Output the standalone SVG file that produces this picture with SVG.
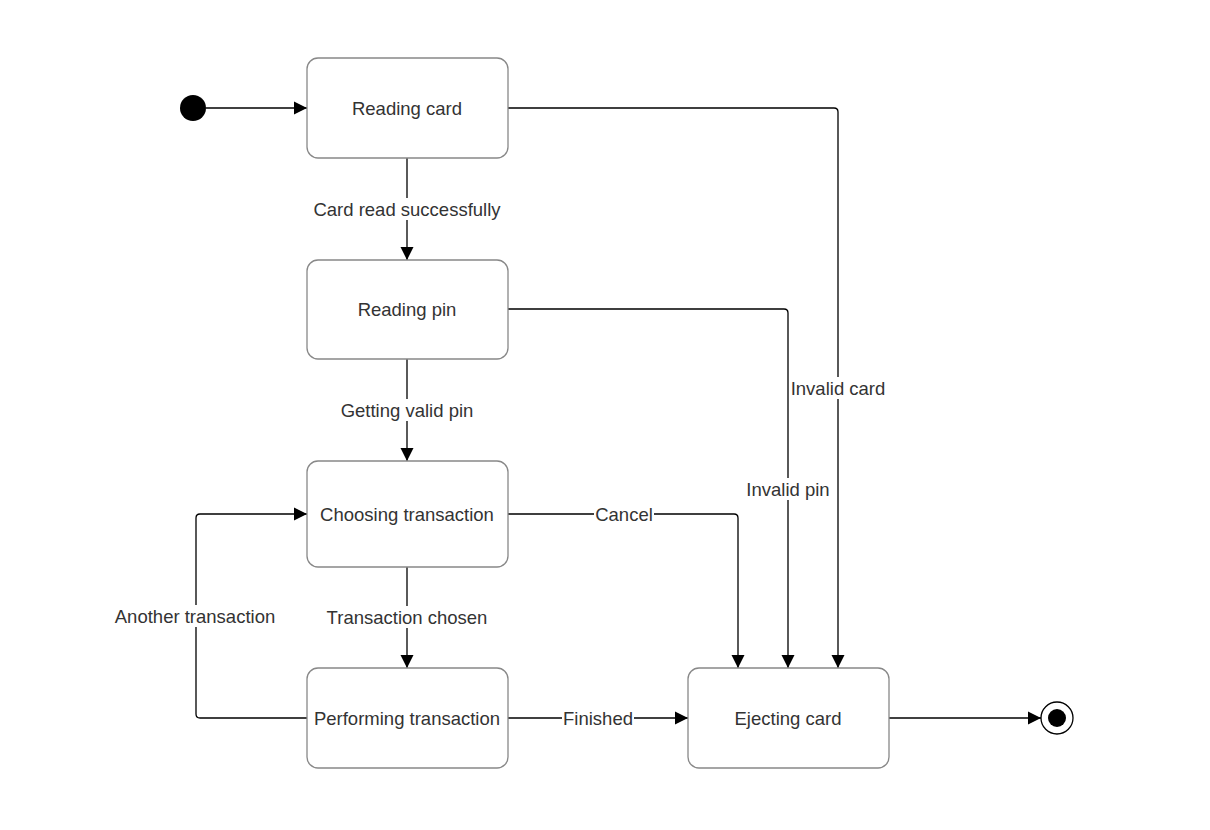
<svg xmlns="http://www.w3.org/2000/svg" width="1210" height="830" viewBox="0 0 1210 830">
<defs>
<marker id="arr" markerWidth="14" markerHeight="14" refX="13" refY="7" orient="auto" markerUnits="userSpaceOnUse">
<path d="M0,0.5 L13,7 L0,13.5 Z" fill="#000"/>
</marker>
<style>
.box{fill:#fff;stroke:#888;stroke-width:1.3}
.t{font-family:"Liberation Sans",Arial,sans-serif;font-size:18.5px;fill:#333;text-anchor:middle;dominant-baseline:central}
.e{fill:none;stroke:#000;stroke-width:1.3}
.lb{fill:#fff}
</style>
</defs>
<rect width="1210" height="830" fill="#fff"/>
<g id="connectors">
<path class="e" d="M206,108 H307" marker-end="url(#arr)"/>
<path class="e" d="M407,158 V260" marker-end="url(#arr)"/>
<path class="e" d="M407,359 V461" marker-end="url(#arr)"/>
<path class="e" d="M407,567 V668" marker-end="url(#arr)"/>
<path class="e" d="M307,718 H200 Q196,718 196,714 V518 Q196,514 200,514 H307" marker-end="url(#arr)"/>
<path class="e" d="M508,718 H688" marker-end="url(#arr)"/>
<path class="e" d="M508,514 H734 Q738,514 738,518 V668" marker-end="url(#arr)"/>
<path class="e" d="M508,309 H784 Q788,309 788,313 V668" marker-end="url(#arr)"/>
<path class="e" d="M508,108 H834 Q838,108 838,112 V668" marker-end="url(#arr)"/>
<path class="e" d="M889,718 H1041" marker-end="url(#arr)"/>
<rect class="lb" x="312" y="198" width="190" height="22"/>
<text class="t" x="407" y="209">Card read successfully</text>
<rect class="lb" x="339" y="399" width="136" height="22"/>
<text class="t" x="407" y="410">Getting valid pin</text>
<rect class="lb" x="325" y="606" width="164" height="22"/>
<text class="t" x="407" y="617">Transaction chosen</text>
<rect class="lb" x="112" y="605" width="166" height="22"/>
<text class="t" x="195" y="616">Another transaction</text>
<rect class="lb" x="562" y="707" width="72" height="22"/>
<text class="t" x="598" y="718">Finished</text>
<rect class="lb" x="594" y="503" width="60" height="22"/>
<text class="t" x="624" y="514">Cancel</text>
<rect class="lb" x="746" y="478" width="84" height="22"/>
<text class="t" x="788" y="489">Invalid pin</text>
<rect class="lb" x="790" y="377" width="96" height="22"/>
<text class="t" x="838" y="388">Invalid card</text>
</g>
<g id="start"><circle cx="193" cy="108" r="13" fill="#000"/></g>
<g id="reading-card"><rect class="box" x="307" y="58" width="201" height="100" rx="11"/><text class="t" x="407" y="108">Reading card</text></g>
<g id="reading-pin"><rect class="box" x="307" y="260" width="201" height="99" rx="11"/><text class="t" x="407" y="309">Reading pin</text></g>
<g id="choosing-transaction"><rect class="box" x="307" y="461" width="201" height="106" rx="11"/><text class="t" x="407" y="514">Choosing transaction</text></g>
<g id="performing-transaction"><rect class="box" x="307" y="668" width="201" height="100" rx="11"/><text class="t" x="407" y="718">Performing transaction</text></g>
<g id="ejecting-card"><rect class="box" x="688" y="668" width="201" height="100" rx="11"/><text class="t" x="788" y="718">Ejecting card</text></g>
<g id="end"><circle cx="1057" cy="718" r="16" fill="#fff" stroke="#000" stroke-width="1.3"/><circle cx="1057" cy="718" r="9" fill="#000"/></g>
</svg>
